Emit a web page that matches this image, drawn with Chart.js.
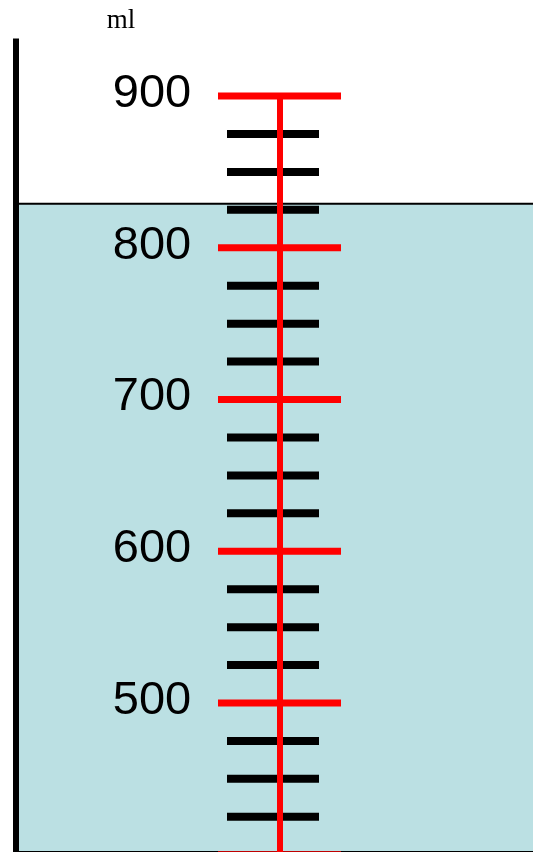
<!DOCTYPE html>
<html>
<head>
<meta charset="utf-8">
<script src="https://cdn.jsdelivr.net/npm/chart.js@4"></script>
<style>
  html, body { margin: 0; padding: 0; background: #fff; }
  canvas { display: block; }
</style>
</head>
<body>
<canvas id="cylinder" width="533" height="852"></canvas>
<script>
// scale data (ml)
const majorValues = [900, 800, 700, 600, 500, 400];
const labelValues = [900, 800, 700, 600, 500];
const minorValues = [875, 850, 825, 775, 750, 725, 675, 650, 625, 575, 550, 525, 475, 450, 425];
const waterLevel = [829];
const unitLabel = 'ml';

const Y_MIN = 401.8, Y_MAX = 963.3;

// turn a list of levels into horizontal segments split by gaps
function segments(values, x0, x1) {
    const pts = [];
    values.forEach(v => {
        pts.push({ x: x0, y: v }, { x: x1, y: v }, { x: x1, y: null });
    });
    return pts;
}

const labelPlugin = {
    id: 'scaleLabels',
    afterDatasetsDraw(chart) {
        const ctx = chart.ctx;
        const y = chart.scales.y;
        ctx.save();
        ctx.fillStyle = '#000';
        ctx.font = "47px 'Liberation Sans', Arial, sans-serif";
        ctx.textAlign = 'center';
        ctx.textBaseline = 'middle';
        labelValues.forEach(v => {
            ctx.fillText(String(v), 152, y.getPixelForValue(v) - 2);
        });
        ctx.font = "27px 'Liberation Serif', 'Times New Roman', serif";
        ctx.fillText(unitLabel, 121, 21);
        ctx.restore();
    }
};

const ctx = document.getElementById('cylinder').getContext('2d');
new Chart(ctx, {
    type: 'line',
    data: {
        datasets: [
            {   // water
                data: [{ x: 19, y: waterLevel[0] }, { x: 533, y: waterLevel[0] }],
                borderColor: '#000',
                borderWidth: 2,
                backgroundColor: '#bbe0e3',
                fill: 'start',
                order: 6
            },
            {   // bottom edge
                data: [{ x: 13, y: Y_MIN }, { x: 533, y: Y_MIN }],
                borderColor: '#000',
                borderWidth: 2,
                fill: false,
                order: 5
            },
            {   // cylinder wall
                data: [{ x: 16, y: 938 }, { x: 16, y: Y_MIN }],
                borderColor: '#000',
                borderWidth: 6,
                fill: false,
                order: 4
            },
            {   // minor graduations
                data: segments(minorValues, 227, 319),
                borderColor: '#000',
                borderWidth: 8,
                fill: false,
                spanGaps: false,
                order: 3
            },
            {   // centre line
                data: [{ x: 280, y: majorValues[0] }, { x: 280, y: Y_MIN }],
                borderColor: '#ff0000',
                borderWidth: 6,
                fill: false,
                order: 2
            },
            {   // major graduations
                data: segments(majorValues, 218, 341),
                borderColor: '#ff0000',
                borderWidth: 7,
                fill: false,
                spanGaps: false,
                order: 1
            }
        ]
    },
    options: {
        responsive: false,
        animation: false,
        devicePixelRatio: 1,
        layout: { padding: 0 },
        elements: {
            point: { radius: 0, hoverRadius: 0 },
            line: { tension: 0, borderCapStyle: 'butt' }
        },
        datasets: { line: { clip: false } },
        scales: {
            x: { type: 'linear', min: 0, max: 533, display: false },
            y: { type: 'linear', min: Y_MIN, max: Y_MAX, display: false }
        },
        plugins: {
            legend: { display: false },
            tooltip: { enabled: false },
            title: { display: false }
        },
        events: []
    },
    plugins: [labelPlugin]
});
</script>
</body>
</html>
